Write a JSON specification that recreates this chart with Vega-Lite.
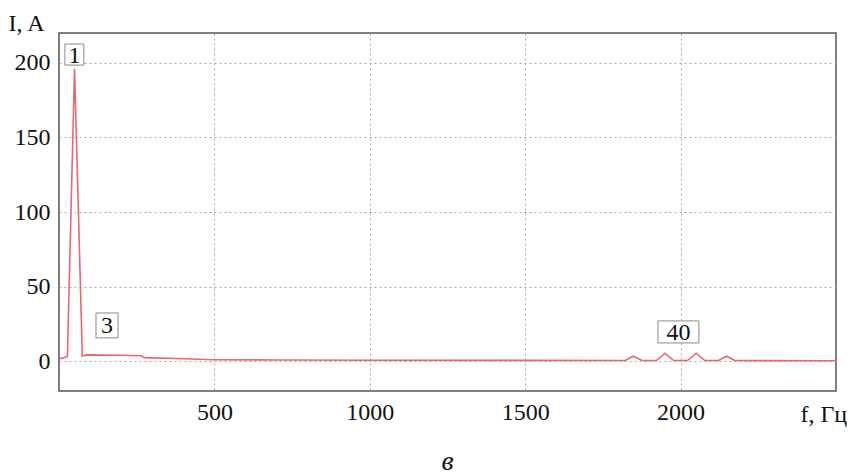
{
  "$schema": "https://vega.github.io/schema/vega-lite/v6.json",
  "width": 777,
  "height": 358,
  "autosize": {"type": "none"},
  "padding": {"left": 59, "top": 33, "right": 15, "bottom": 84},
  "background": "white",
  "config": {
    "view": {"stroke": "#555555", "strokeWidth": 1.5},
    "font": "Liberation Serif",
    "axis": {
      "labelFont": "Liberation Serif",
      "labelFontSize": 24,
      "labelColor": "#111111",
      "titleFont": "Liberation Serif",
      "titleFontSize": 24,
      "titleFontWeight": "normal",
      "titleColor": "#111111",
      "ticks": false,
      "domain": false,
      "grid": true,
      "gridColor": "#a8a8a8",
      "gridDash": [2, 3],
      "gridWidth": 1
    }
  },
  "title": {
    "text": "в",
    "orient": "bottom",
    "anchor": "middle",
    "font": "Liberation Serif",
    "fontStyle": "italic",
    "fontWeight": "normal",
    "fontSize": 28,
    "color": "#111111",
    "offset": 22
  },
  "datasets": {
    "spectrum": [
      {"f": 0, "I": 1.5},
      {"f": 20, "I": 2.6},
      {"f": 27, "I": 3.2},
      {"f": 50, "I": 196},
      {"f": 75, "I": 3.5},
      {"f": 90, "I": 4.2},
      {"f": 200, "I": 4.0},
      {"f": 265, "I": 3.6},
      {"f": 275, "I": 2.4},
      {"f": 400, "I": 1.6},
      {"f": 500, "I": 1.0},
      {"f": 700, "I": 0.8},
      {"f": 1000, "I": 0.6},
      {"f": 1500, "I": 0.5},
      {"f": 1822, "I": 0.4},
      {"f": 1848, "I": 3.3},
      {"f": 1876, "I": 0.4},
      {"f": 1922, "I": 0.4},
      {"f": 1950, "I": 5.3},
      {"f": 1978, "I": 0.4},
      {"f": 2022, "I": 0.4},
      {"f": 2050, "I": 5.3},
      {"f": 2078, "I": 0.4},
      {"f": 2122, "I": 0.4},
      {"f": 2148, "I": 3.3},
      {"f": 2174, "I": 0.4},
      {"f": 2500, "I": 0.3}
    ],
    "labels": [
      {"label": "1", "fx": 50, "Iy": 205.5, "f1": 19, "f2": 80, "I1": 198.5, "I2": 212.6},
      {"label": "3", "fx": 154.5, "Iy": 24, "f1": 119, "f2": 190, "I1": 15.6, "I2": 32.3},
      {"label": "40", "fx": 1993, "Iy": 19.6, "f1": 1927, "f2": 2059, "I1": 12.2, "I2": 27}
    ]
  },
  "layer": [
    {
      "data": {"name": "spectrum"},
      "mark": {"type": "line", "color": "#ee6470", "strokeWidth": 1.6, "clip": true},
      "encoding": {
        "x": {
          "field": "f",
          "type": "quantitative",
          "scale": {"domain": [0, 2500], "nice": false, "zero": false},
          "axis": {
            "values": [500, 1000, 1500, 2000],
            "format": "d",
            "labelPadding": 9,
            "title": "f, Гц",
            "titleX": 741,
            "titleY": 30,
            "titleAlign": "left",
            "titleBaseline": "alphabetic",
            "titleAnchor": null
          }
        },
        "y": {
          "field": "I",
          "type": "quantitative",
          "scale": {"domain": [-20, 220], "nice": false, "zero": false},
          "axis": {
            "values": [0, 50, 100, 150, 200],
            "format": "d",
            "labelPadding": 9,
            "title": "I, A",
            "titleAngle": 0,
            "titleX": -51,
            "titleY": -10,
            "titleAlign": "left",
            "titleBaseline": "middle",
            "titleAnchor": null
          }
        }
      }
    },
    {
      "data": {"name": "labels"},
      "mark": {"type": "rect", "fill": "white", "stroke": "#8a8a8a", "strokeWidth": 1},
      "encoding": {
        "x": {"field": "f1", "type": "quantitative"},
        "x2": {"field": "f2"},
        "y": {"field": "I1", "type": "quantitative"},
        "y2": {"field": "I2"}
      }
    },
    {
      "data": {"name": "labels"},
      "mark": {"type": "text", "font": "Liberation Serif", "fontSize": 24, "color": "#111111", "baseline": "middle", "align": "center", "dy": 1},
      "encoding": {
        "x": {"field": "fx", "type": "quantitative"},
        "y": {"field": "Iy", "type": "quantitative"},
        "text": {"field": "label"}
      }
    }
  ]
}
